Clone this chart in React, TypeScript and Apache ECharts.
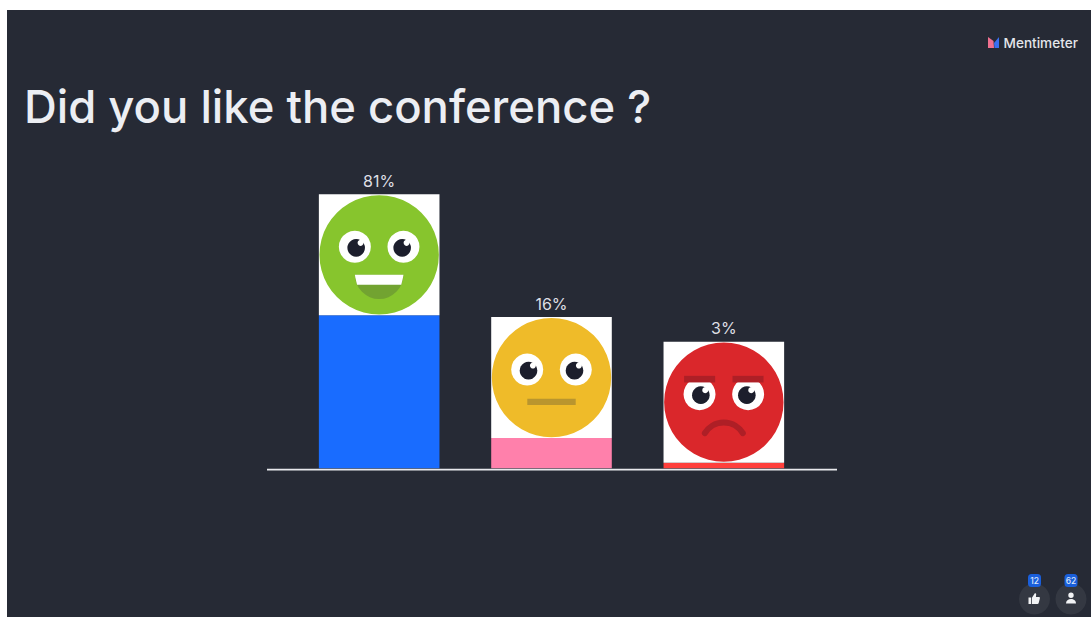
import React, { useEffect, useRef } from "react";
import * as echarts from "echarts";

const categories = ["Yes", "So-so", "No"];
const percents = [81, 16, 3];
const barColors = ["#196CFF", "#FF80AB", "#FF3F3C"];
const faceColors = ["#87C52D", "#EFBB29", "#DA272B"];
const faceKinds = ["happy", "neutral", "angry"];
const badgeLikes = "12";
const badgeUsers = "62";

const FONT = "Inter, 'Noto Sans', sans-serif";
const SQUARE = 121;
const PUPIL = "#1C1E2C";

echarts.graphic.registerShape(
  "thumbIcon",
  echarts.graphic.extendPath(
    "M0 5h2.6v6.6H0z M3.4 5.2 6 1.2c.3-.6 1.6-.5 1.7.6l-.3 2.6h3c.8 0 1.2.7 1 1.4l-1.2 4.8c-.2.6-.6 1-1.2 1H3.4z",
    {}
  )
);
echarts.graphic.registerShape(
  "personIcon",
  echarts.graphic.extendPath(
    "M5 0a2.7 2.7 0 1 1 0 5.4A2.7 2.7 0 0 1 5 0z M0 11c0-3 2.2-4.6 5-4.6S10 8 10 11z",
    {}
  )
);

function eye(cx: number, cy: number, dir: number) {
  return [
    { type: "circle", shape: { cx, cy, r: 16 }, style: { fill: "#FFFFFF" } },
    { type: "circle", shape: { cx: cx + 1.3 * dir, cy: cy + 1, r: 8.8 }, style: { fill: PUPIL } },
    { type: "circle", shape: { cx: cx + 1.3 * dir + 4.4, cy: cy - 4, r: 3 }, style: { fill: "#FFFFFF" } },
  ];
}

function mouth(kind: string, cx: number, cy: number) {
  if (kind === "happy") {
    return [
      {
        type: "sector",
        shape: { cx, cy: cy + 19.8, r0: 0, r: 24.3, startAngle: 0, endAngle: Math.PI },
        style: { fill: "#72A331" },
      },
      {
        type: "polygon",
        shape: {
          points: [
            [cx - 24.3, cy + 19.8],
            [cx + 24.3, cy + 19.8],
            [cx + 23.8, cy + 23],
            [cx + 22.1, cy + 29.8],
            [cx - 22.1, cy + 29.8],
            [cx - 23.8, cy + 23],
          ],
        },
        style: { fill: "#FFFFFF" },
      },
    ];
  }
  if (kind === "neutral") {
    return [{ type: "rect", shape: { x: cx - 24.2, y: cy + 21.2, width: 48.4, height: 6.3 }, style: { fill: "#B9952E" } }];
  }
  return [
    { type: "rect", shape: { x: cx - 39.7, y: cy - 26.3, width: 31, height: 6.6 }, style: { fill: "#AE1F26" } },
    { type: "rect", shape: { x: cx + 8.7, y: cy - 26.3, width: 31, height: 6.6 }, style: { fill: "#AE1F26" } },
    {
      type: "arc",
      shape: {
        cx,
        cy: cy + 42.5,
        r: 22.2,
        startAngle: -Math.PI / 2 - 1.026,
        endAngle: -Math.PI / 2 + 1.026,
      },
      style: { fill: "none", stroke: "#AE1F26", lineWidth: 6, lineCap: "round" },
    },
  ];
}

function renderFace(params: any, api: any) {
  const i = params.dataIndex;
  const [cx, top] = api.coord([api.value(0), api.value(1)]);
  const half = SQUARE / 2;
  const cy = top - half;
  return {
    type: "group",
    children: [
      {
        type: "rect",
        shape: { x: cx - 60.3, y: top - SQUARE, width: 120.6, height: SQUARE },
        style: { fill: "#FFFFFF" },
      },
      { type: "circle", shape: { cx, cy, r: 59.7 }, style: { fill: faceColors[i] } },
      ...eye(cx - 24.3, cy - 8, 1),
      ...eye(cx + 24.3, cy - 8, -1),
      ...mouth(faceKinds[i], cx, cy),
    ],
  };
}

function badge(cx: number, text: string) {
  return [
    { type: "circle", shape: { cx, cy: 599, r: 15.5 }, style: { fill: "#343842" } },
    { type: "rect", shape: { x: cx - 6.5, y: 574, width: 13, height: 13, r: 3.5 }, style: { fill: "#1A5FDB" } },
    {
      type: "text",
      x: cx,
      y: 580.5,
      style: { text, fill: "#DCE6FA", font: `500 8.5px ${FONT}`, align: "center", verticalAlign: "middle" },
    },
  ];
}

export default function App() {
  const ref = useRef<HTMLDivElement>(null);

  useEffect(() => {
    document.body.style.margin = "0";
    const chart = echarts.init(ref.current!, null, { renderer: "svg" });
    chart.setOption({
      animation: false,
      backgroundColor: "#FFFFFF",
      grid: { left: 293, width: 517, top: 279.5, height: 188.8 },
      xAxis: {
        type: "category",
        data: categories,
        axisLine: { show: false },
        axisTick: { show: false },
        axisLabel: { show: false },
      },
      yAxis: { type: "value", min: 0, max: 100, show: false, splitLine: { show: false } },
      graphic: [
        { type: "rect", z: -10, shape: { x: 7, y: 10, width: 1084, height: 607 }, style: { fill: "#262A35" } },
        {
          type: "text",
          x: 24,
          y: 106,
          style: {
            text: "Did you like the conference ?",
            fill: "#ECEEF3",
            font: `500 45.4px ${FONT}`,
            verticalAlign: "middle",
          },
        },
        {
          type: "text",
          x: 1003.5,
          y: 43,
          style: { text: "Mentimeter", fill: "#E4E6EB", font: `500 13.6px ${FONT}`, verticalAlign: "middle" },
        },
        { type: "polygon", shape: { points: [[988, 37], [993.5, 41], [994, 48], [988, 48]] }, style: { fill: "#F0708F" } },
        { type: "polygon", shape: { points: [[999, 37], [994, 43], [994.5, 48], [999, 48]] }, style: { fill: "#3A6FF0" } },
        {
          type: "line",
          shape: { x1: 267, y1: 469.7, x2: 837, y2: 469.7 },
          style: { stroke: "#E8E9ED", lineWidth: 1.8 },
          z: 10,
        },
        ...badge(1034.5, badgeLikes),
        ...badge(1071, badgeUsers),
        { type: "thumbIcon", x: 1028.5, y: 592.5, style: { fill: "#F2F3F5" } },
        { type: "personIcon", x: 1066, y: 592.5, style: { fill: "#F2F3F5" } },
      ],
      series: [
        {
          type: "bar",
          data: percents.map((v, i) => ({ value: v, itemStyle: { color: barColors[i] } })),
          barWidth: 120.6,
          label: {
            show: true,
            position: "top",
            distance: 126.5,
            formatter: "{c}%",
            color: "#DEDFE4",
            fontFamily: FONT,
            fontSize: 16,
          },
        },
        {
          type: "custom",
          data: percents.map((v, i) => [i, v]),
          renderItem: renderFace,
          z: 5,
        },
      ],
    });
    return () => chart.dispose();
  }, []);

  return <div ref={ref} style={{ width: 1091, height: 617 }} />;
}
